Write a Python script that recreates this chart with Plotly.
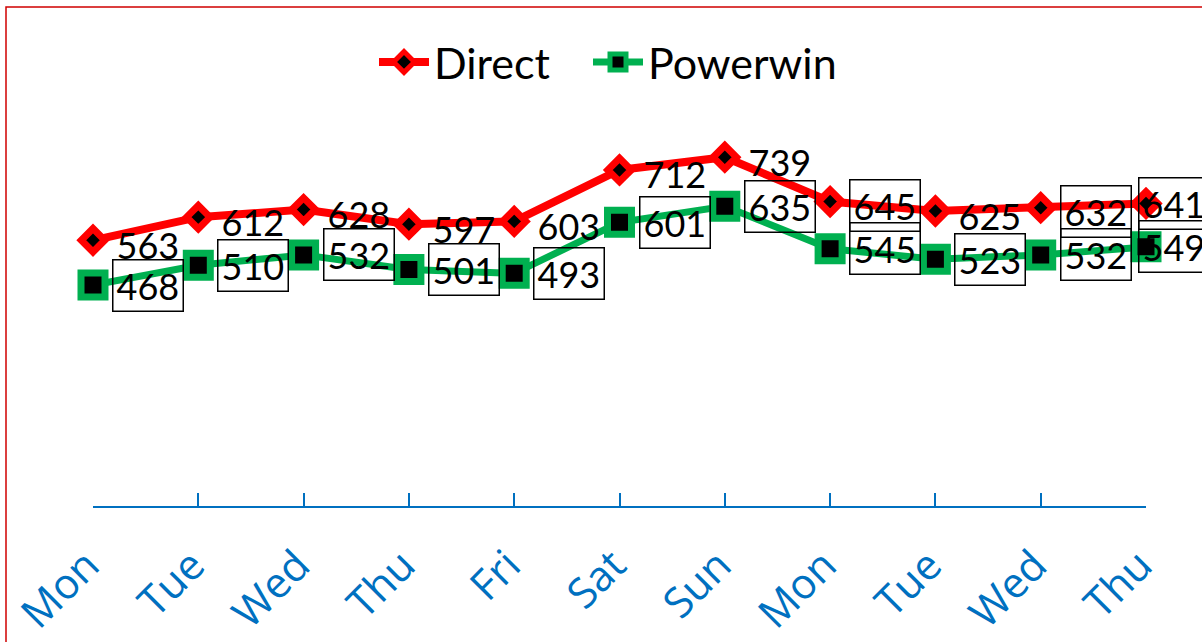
import plotly.graph_objects as go

days = ["Mon", "Tue", "Wed", "Thu", "Fri", "Sat", "Sun", "Mon", "Tue", "Wed", "Thu"]
direct = [563, 612, 628, 597, 603, 712, 739, 645, 625, 632, 641]
powerwin = [468, 510, 532, 501, 493, 601, 635, 545, 523, 532, 549]
direct_boxed = [False, False, False, False, False, False, False, True, False, True, True]

x = list(range(len(days)))

RED = "#FF0000"
GREEN = "#00B050"
BLUE = "#0070C0"

fig = go.Figure()
fig.add_trace(go.Scatter(
    x=x, y=direct, name="Direct", mode="lines+markers", legend="legend", cliponaxis=False,
    line=dict(color=RED, width=8),
    marker=dict(symbol="diamond", size=18, color="black", line=dict(color=RED, width=7)),
))
fig.add_trace(go.Scatter(
    x=x, y=powerwin, name="Powerwin", mode="lines+markers", legend="legend2", cliponaxis=False,
    line=dict(color=GREEN, width=7),
    marker=dict(symbol="square", size=24, color="black", line=dict(color=GREEN, width=7)),
))

label_font = dict(family="Lato, Carlito, sans-serif", size=36, color="black")
last = len(x) - 1
for i, v in enumerate(direct):
    fig.add_annotation(x=x[i], y=v, text=str(v), showarrow=False,
                       xanchor="left", yanchor="middle",
                       xshift=-8 if i == last else 19, yshift=0 if i == last else -4,
                       font=label_font, borderpad=3, borderwidth=1.5,
                       bordercolor="black" if direct_boxed[i] else "rgba(0,0,0,0)")
for i, v in enumerate(powerwin):
    fig.add_annotation(x=x[i], y=v, text=str(v), showarrow=False,
                       xanchor="left", yanchor="middle",
                       xshift=-8 if i == last else 19, yshift=0,
                       font=label_font, borderpad=3, borderwidth=1.5,
                       bordercolor="black")

# outer chart border (clipped at right/bottom like reference)
fig.add_shape(type="rect", xref="paper", yref="paper",
              x0=-87/1053, x1=1.2, y0=-0.5, y1=(506 - 7) / 472,
              line=dict(color="#D00000", width=1.5), fillcolor="rgba(0,0,0,0)", layer="below")

legend_font = dict(family="Lato, Carlito, sans-serif", size=43, color="black")
fig.update_layout(
    width=1202, height=642,
    margin=dict(l=93, r=56, t=34, b=136, autoexpand=False),
    paper_bgcolor="white", plot_bgcolor="white",
    showlegend=True,
    legend=dict(orientation="h", x=(374 - 93) / 1053, xanchor="left", y=(506 - 62) / 472, yanchor="middle",
                itemwidth=50, font=legend_font, bgcolor="rgba(0,0,0,0)"),
    legend2=dict(orientation="h", x=(588 - 93) / 1053, xanchor="left", y=(506 - 62) / 472, yanchor="middle",
                 itemwidth=50, font=legend_font, bgcolor="rgba(0,0,0,0)"),
    xaxis=dict(range=[0, 10], tickmode="array", tickvals=x, ticktext=days, automargin=False,
               showgrid=False, zeroline=False, showline=True, linecolor=BLUE, linewidth=1.5,
               ticks="inside", ticklen=13, tickwidth=1.5, tickcolor=BLUE,
               tickangle=-45, ticklabelstandoff=16, ticklabelshift=-6,
               tickfont=dict(family="Open Sans, sans-serif", size=42, color=BLUE)),
    yaxis=dict(range=[0, 1000], visible=False, showgrid=False, zeroline=False, automargin=False),
)

fig.write_html("out.html", config={"displayModeBar": False},
               post_script="document.body.style.margin='0';")
